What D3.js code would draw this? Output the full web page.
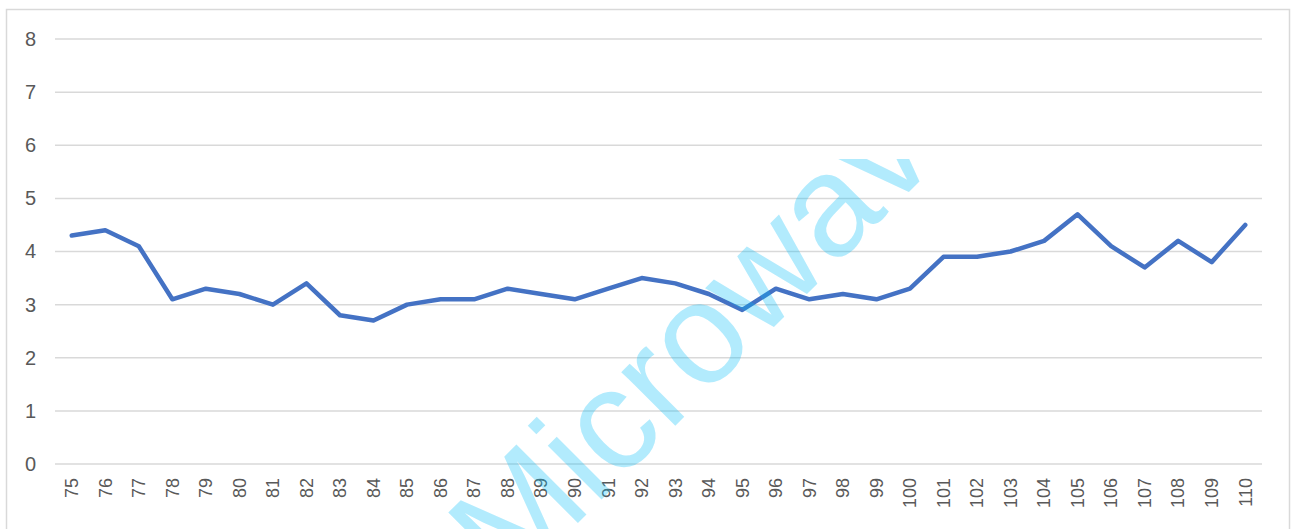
<!DOCTYPE html>
<html>
<head>
<meta charset="utf-8">
<script src="https://cdn.jsdelivr.net/npm/d3@7"></script>
<style>
  html, body { margin: 0; padding: 0; background: #ffffff; }
  svg { display: block; }
</style>
</head>
<body>
<div id="chart"></div>
<script>
// ---- data ----
const categories = [75,76,77,78,79,80,81,82,83,84,85,86,87,88,89,90,91,92,93,94,95,96,97,98,99,100,101,102,103,104,105,106,107,108,109,110];
const values = [4.3,4.4,4.1,3.1,3.3,3.2,3.0,3.4,2.8,2.7,3.0,3.1,3.1,3.3,3.2,3.1,3.3,3.5,3.4,3.2,2.9,3.3,3.1,3.2,3.1,3.3,3.9,3.9,4.0,4.2,4.7,4.1,3.7,4.2,3.8,4.5];
const yTicks = [0,1,2,3,4,5,6,7,8];
const watermarkText = "Microwave";

// ---- layout ----
const W = 1291, H = 529;
const plot = { left: 55, right: 1262, top: 39, bottom: 464 };

const svg = d3.select("#chart").append("svg")
  .attr("width", W).attr("height", H);

// outer chart border
svg.append("rect")
  .attr("x", 6.5).attr("y", 9.5)
  .attr("width", 1283).attr("height", 560)
  .attr("fill", "#ffffff")
  .attr("stroke", "#d9d9d9").attr("stroke-width", 1.5);

const x = d3.scaleBand()
  .domain(categories)
  .range([plot.left, plot.right])
  .paddingInner(0).paddingOuter(0);

const y = d3.scaleLinear()
  .domain([0, 8])
  .range([plot.bottom, plot.top]);

// gridlines
svg.append("g")
  .selectAll("line")
  .data(yTicks)
  .join("line")
  .attr("x1", plot.left).attr("x2", plot.right)
  .attr("y1", d => y(d)).attr("y2", d => y(d))
  .attr("stroke", "#d9d9d9").attr("stroke-width", 1.5);

// y axis labels
const yAxis = d3.axisLeft(y).tickValues(yTicks).tickSize(0).tickPadding(0).tickFormat(d3.format("d"));
const gy = svg.append("g")
  .attr("transform", `translate(36,0)`)
  .call(yAxis);
gy.select(".domain").remove();
gy.selectAll("text")
  .attr("fill", "#595959")
  .attr("font-family", "Liberation Sans, Arial, sans-serif")
  .attr("font-size", 20);

// x axis labels (rotated)
const xAxis = d3.axisBottom(x).tickSize(0).tickPadding(0);
const gx = svg.append("g")
  .attr("transform", `translate(0,${plot.bottom})`)
  .call(xAxis);
gx.select(".domain").remove();
gx.selectAll("text")
  .attr("fill", "#595959")
  .attr("font-family", "Liberation Sans, Arial, sans-serif")
  .attr("font-size", 18)
  .attr("text-anchor", "end")
  .attr("transform", "rotate(-90)")
  .attr("x", -14)
  .attr("y", 0)
  .attr("dy", "0.35em");

// line
const line = d3.line()
  .x((d, i) => x(categories[i]) + x.bandwidth() / 2)
  .y(d => y(d));

svg.append("path")
  .datum(values)
  .attr("d", line)
  .attr("fill", "none")
  .attr("stroke", "#4472C4")
  .attr("stroke-width", 4.5)
  .attr("stroke-linejoin", "round")
  .attr("stroke-linecap", "round");

// watermark
svg.append("clipPath").attr("id", "wmclip")
  .append("rect").attr("x", 0).attr("y", 159).attr("width", W).attr("height", H - 159);

svg.append("g")
  .attr("clip-path", "url(#wmclip)")
  .append("text")
  .attr("transform", "translate(510,591) rotate(-45)")
  .attr("font-family", "Liberation Sans, Arial, sans-serif")
  .attr("font-size", 144)
  .attr("fill", "rgb(0,190,250)")
  .attr("fill-opacity", 0.3)
  .text(watermarkText);
</script>
</body>
</html>
